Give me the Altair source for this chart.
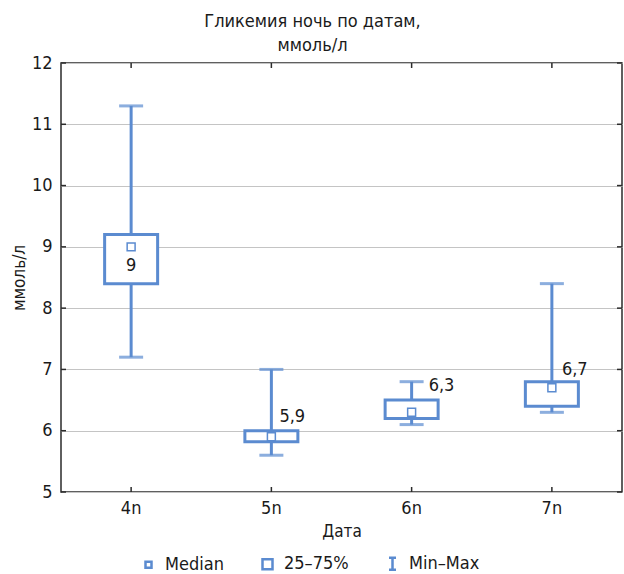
import altair as alt
import pandas as pd

# Night glycaemia by date: min / quartiles / median / max
dates = ["4n", "5n", "6n", "7n"]
mins = [7.2, 5.6, 6.1, 6.3]
q1s = [8.4, 5.82, 6.2, 6.4]
medians = [9.0, 5.9, 6.3, 6.7]
q3s = [9.2, 6.0, 6.5, 6.8]
maxs = [11.3, 7.0, 6.8, 8.4]
y_ticks = [5, 6, 7, 8, 9, 10, 11, 12]
legend_items = ["Median", "25–75%", "Min–Max"]

W, H = 561, 429
BLUE = "#5b8bd0"
DARK = "#2b2b2b"
FONT = "'DejaVu Sans Condensed', Roboto, sans-serif"

df = pd.DataFrame({
    "date": dates,
    "min": mins,
    "q1": q1s,
    "median": medians,
    "q3": q3s,
    "max": maxs,
    "label": [f"{m:g}".replace(".", ",") for m in medians],
    "kind": ["Median"] * len(dates),
})
ticks_df = pd.DataFrame({"v": y_ticks})

x_scale = alt.Scale(domain=dates, paddingInner=0, paddingOuter=0)
y_scale = alt.Scale(domain=[5, 12], nice=False, zero=False)

x_enc = alt.X("date:N", scale=x_scale, sort=dates,
              axis=alt.Axis(title="Дата", labelAngle=0, ticks=False, domain=False,
                            labelPadding=7, titlePadding=6))
x_plain = alt.X("date:N", scale=x_scale, sort=dates)

base = alt.Chart(df)

# whisker from min to max (drawn first, box covers the middle part)
whisker = base.mark_rule(color=BLUE, strokeWidth=3).encode(
    x=x_enc,
    y=alt.Y("min:Q", scale=y_scale,
            axis=alt.Axis(title="ммоль/л", values=y_ticks, format="d", grid=True,
                          ticks=False, domain=False, labelPadding=9, titlePadding=3)),
    y2="max:Q",
)

box = base.mark_bar(fill="white", stroke=BLUE, strokeWidth=3, size=53).encode(
    x=x_plain, y="q1:Q", y2="q3:Q"
)

cap_lo = base.mark_tick(color=BLUE, thickness=3, size=24, orient="horizontal").encode(
    x=x_plain, y="min:Q"
)
cap_hi = base.mark_tick(color=BLUE, thickness=3, size=24, orient="horizontal").encode(
    x=x_plain, y="max:Q"
)

# key symbols: small median square, quartile box, min-max bracket
symbol_paths = [
    "M-0.3,-0.3H0.3V0.3H-0.3Z",
    "M-0.5,-0.5H0.5V0.5H-0.5Z",
    "M-0.35,-0.6H0.35M0,-0.6V0.6M-0.35,0.6H0.35",
]

key_legend = alt.Legend(
    title=None, orient="none", direction="horizontal",
    legendX=76, legendY=489, symbolSize=400,
    symbolFillColor="white", symbolStrokeColor=BLUE, symbolStrokeWidth=2.5,
    symbolOpacity=1, labelFontSize=18, labelOffset=5, columnPadding=32,
)

median_pt = base.mark_point(filled=False, fill="white", strokeWidth=1.5,
                            opacity=1, size=700).encode(
    x=x_plain,
    y="median:Q",
    shape=alt.Shape("kind:N", scale=alt.Scale(domain=legend_items, range=symbol_paths),
                    legend=key_legend),
    color=alt.Color("kind:N", scale=alt.Scale(domain=legend_items, range=[BLUE] * 3),
                    legend=key_legend),
)

txt_style = dict(fontSize=18, font=FONT, color="#1a1a1a", baseline="middle")
lab_4 = base.transform_filter("datum.date == '4n'").mark_text(
    align="center", dy=19, **txt_style).encode(x=x_plain, y="median:Q", text="label:N")
lab_5 = base.transform_filter("datum.date == '5n'").mark_text(
    align="left", dx=8, dy=-20, **txt_style).encode(x=x_plain, y="median:Q", text="label:N")
lab_6 = base.transform_filter("datum.date == '6n'").mark_text(
    align="left", dx=17, dy=-26, **txt_style).encode(x=x_plain, y="median:Q", text="label:N")
lab_7 = base.transform_filter("datum.date == '7n'").mark_text(
    align="left", dx=10, dy=-18, **txt_style).encode(x=x_plain, y="median:Q", text="label:N")

# inside tick marks on all four sides of the frame
tick_style = dict(color=DARK, strokeWidth=1.5)
xt_bottom = base.mark_rule(**tick_style).encode(x=x_plain, y=alt.value(H), y2=alt.value(H - 5))
xt_top = base.mark_rule(**tick_style).encode(x=x_plain, y=alt.value(0), y2=alt.value(5))
tb = alt.Chart(ticks_df)
yt_left = tb.mark_rule(**tick_style).encode(y=alt.Y("v:Q", scale=y_scale), x=alt.value(0), x2=alt.value(5))
yt_right = tb.mark_rule(**tick_style).encode(y=alt.Y("v:Q", scale=y_scale), x=alt.value(W), x2=alt.value(W - 5))

chart = alt.layer(
    whisker, box, cap_lo, cap_hi, median_pt, lab_4, lab_5, lab_6, lab_7,
    xt_bottom, xt_top, yt_left, yt_right,
).properties(
    width=W, height=H,
    background="white",
    title=alt.TitleParams(
        ["Гликемия ночь по датам,", "ммоль/л"],
        fontSize=18, font=FONT, fontWeight="normal", color="#1a1a1a",
        anchor="middle", dx=-29, offset=-1, lineHeight=24,
    ),
    autosize=alt.AutoSizeParams(type="none"),
    padding={"left": 61, "top": 63, "right": 2, "bottom": 82},
).configure_view(
    stroke=DARK, strokeWidth=1.5
).configure_axis(
    labelFont=FONT, titleFont=FONT, labelFontSize=18, titleFontSize=17,
    titleFontWeight="normal", labelColor="#1a1a1a", titleColor="#1a1a1a",
    gridColor="#c4c4c4", gridWidth=1.2,
).configure_legend(
    labelFont=FONT, labelColor="#1a1a1a",
)

chart.save("out.html", embed_options={"renderer": "svg", "actions": False})
